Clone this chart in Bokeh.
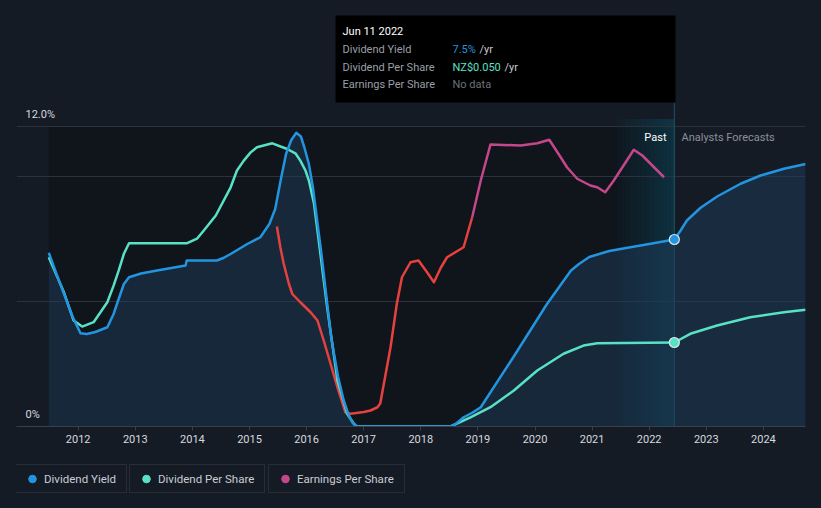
from bokeh.plotting import figure
from bokeh.layouts import column
from bokeh.models import (Range1d, FixedTicker, Grid, BoxAnnotation, Label,
                          Legend, LegendItem)
from bokeh.embed import file_html
from bokeh.resources import INLINE

# ---------------- data ----------------
tick_years = [2012, 2013, 2014, 2015, 2016, 2017, 2018, 2019, 2020, 2021, 2022, 2023, 2024]

# Dividend yield (%) - past
dy_years = [2011.485, 2011.62, 2011.75, 2011.9, 2012.04, 2012.15, 2012.3, 2012.51, 2012.62,
            2012.71, 2012.8, 2012.89, 2013.1, 2013.38, 2013.88, 2013.90, 2014.43, 2014.55,
            2014.67, 2014.96, 2015.19, 2015.35, 2015.45, 2015.55, 2015.64, 2015.73, 2015.82,
            2015.90, 2015.96, 2016.04, 2016.11, 2016.26, 2016.43, 2016.55, 2016.65, 2016.73,
            2016.80, 2016.88, 2018.52, 2018.62, 2018.75, 2018.9, 2019.05, 2019.62, 2020.21,
            2020.63, 2020.77, 2020.95, 2021.3, 2021.67, 2022.0, 2022.44]
dy = [6.95, 6.1, 5.31, 4.4, 3.73, 3.70, 3.78, 3.97, 4.5,
      5.11, 5.7, 5.97, 6.12, 6.24, 6.44, 6.64, 6.64, 6.75,
      6.9, 7.3, 7.57, 8.11, 8.7, 9.9, 10.9, 11.45, 11.75,
      11.6, 11.17, 10.5, 9.57, 6.9, 3.57, 2.0, 1.04, 0.5,
      0.17, 0.0, 0.0, 0.12, 0.37, 0.55, 0.77, 2.77, 4.9,
      6.24, 6.5, 6.78, 7.02, 7.17, 7.3, 7.48]
# Dividend yield (%) - analysts forecasts
dy_fc_years = [2022.44, 2022.55, 2022.66, 2022.90, 2023.19, 2023.60, 2023.95, 2024.36, 2024.74]
dy_fc = [7.48, 7.84, 8.24, 8.75, 9.2, 9.71, 10.04, 10.31, 10.5]

# Dividend per share (NZ$) - past
dps_years = [2011.485, 2011.75, 2011.92, 2012.07, 2012.27, 2012.51, 2012.62, 2012.71, 2012.80,
             2012.89, 2013.91, 2014.08, 2014.20, 2014.41, 2014.67, 2014.78, 2014.90, 2015.02,
             2015.13, 2015.40, 2015.66, 2015.81, 2015.89, 2015.98, 2016.04, 2016.13, 2016.19,
             2016.36, 2016.54, 2016.71, 2016.83, 2016.88, 2018.52, 2018.87, 2019.22, 2019.63,
             2020.04, 2020.50, 2020.85, 2021.09, 2022.44]
dps = [0.1007, 0.0799, 0.0631, 0.0595, 0.0621, 0.0740, 0.0839, 0.0929, 0.1028,
       0.1091, 0.1091, 0.1118, 0.1167, 0.1256, 0.1424, 0.1524, 0.1583, 0.1632,
       0.1662, 0.1686, 0.1652, 0.1624, 0.1583, 0.1524, 0.1464, 0.1326, 0.1167,
       0.0710, 0.0274, 0.0076, 0.0015, 0.0, 0.0, 0.0055, 0.0115, 0.0214,
       0.0333, 0.0433, 0.0482, 0.0496, 0.050]
# Dividend per share (NZ$) - forecasts
dps_fc_years = [2022.44, 2022.72, 2023.19, 2023.77, 2024.36, 2024.74]
dps_fc = [0.050, 0.0552, 0.0601, 0.0650, 0.0680, 0.0695]

# Earnings per share (relative scale)
eps_red_years = [2015.48, 2015.54, 2015.60, 2015.69, 2015.75, 2015.89, 2016.07, 2016.19, 2016.30,
                 2016.54, 2016.68, 2016.77, 2017.0, 2017.12, 2017.24, 2017.29, 2017.47, 2017.58,
                 2017.67, 2017.82, 2017.96, 2018.10, 2018.23, 2018.35, 2018.46, 2018.75, 2018.90]
eps_red = [8.0, 7.17, 6.5, 5.71, 5.3, 4.97, 4.57, 4.24, 3.44,
           1.57, 0.57, 0.51, 0.58, 0.64, 0.77, 0.92, 3.17, 4.91,
           5.97, 6.57, 6.64, 6.2, 5.77, 6.35, 6.77, 7.17, 8.37]
eps_mag_years = [2018.90, 2019.05, 2019.22, 2019.75, 2020.04, 2020.25, 2020.45, 2020.56, 2020.74,
                 2020.97, 2021.09, 2021.23, 2021.38, 2021.73, 2021.88, 2022.26]
eps_mag = [8.37, 9.84, 11.28, 11.24, 11.33, 11.47, 10.77, 10.37, 9.91,
           9.64, 9.57, 9.37, 9.84, 11.07, 10.84, 9.97]

NOW = 2022.44
DPS_AT_12 = 0.1786          # NZ$ value that sits on the 12.0% line
y_grid = [0, 5, 10, 12]

# ---------------- layout / style ----------------
W = 821
H_MAIN, H_LEG = 455, 53
FL, FR, FB = 16, 805, 426          # frame left/right/bottom in pixels
PX_YR = 57.1
PX_UNIT = 25.0
X0 = 2012 - (77.7 - FL) / PX_YR
X1 = X0 + (FR - FL) / PX_YR
Y1 = FB / PX_UNIT

BG = "#151b25"
PAST_BG = "#10141b"
BLUE = "#2394df"
TEAL = "#59e1c6"
RED = "#e5423f"
MAG = "#c4478b"
GRID = "#2c323b"
FONT = "Roboto"
CSS_BG = {"background-color": BG}


def px_x(px):
    return X0 + (px - FL) / PX_YR


def px_y(py):
    return (FB - py) / PX_UNIT


p = figure(width=W, height=H_MAIN, x_range=Range1d(X0, X1), y_range=Range1d(0, Y1),
           output_backend="svg", toolbar_location=None, y_axis_location=None,
           min_border_left=FL, min_border_right=W - FR, min_border_top=0,
           min_border_bottom=H_MAIN - FB, background_fill_color=BG, border_fill_color=BG,
           outline_line_color=None, styles=CSS_BG)
p.extra_y_ranges = {"dps": Range1d(0, DPS_AT_12 * Y1 / 12)}
p.xgrid.visible = False
p.ygrid.visible = False

# backgrounds
p.add_layout(BoxAnnotation(left=dy_years[0], right=NOW, bottom=0, top=12.0,
                           fill_color=PAST_BG, fill_alpha=1, line_alpha=0, level="underlay"))
N = 14
for i in range(N):
    p.add_layout(BoxAnnotation(left=NOW - 1 + i / N, right=NOW - 1 + (i + 1) / N, bottom=0, top=12.3,
                               fill_color="#0b4d63", fill_alpha=0.05 + 0.45 * (i + 1) / N,
                               line_alpha=0, level="underlay"))
p.add_layout(Grid(dimension=1, ticker=FixedTicker(ticks=y_grid), grid_line_color=GRID,
                  grid_line_width=1))

# hover line
p.segment(x0=[NOW], y0=[0], x1=[NOW], y1=[px_y(102)], line_color="#1d5566", line_width=1)

# fill under dividend yield
all_x = dy_years + dy_fc_years[1:]
all_y = dy + dy_fc[1:]
p.varea(x=all_x, y1=[0] * len(all_x), y2=all_y, fill_color="#1d3b5a", fill_alpha=0.5)

# lines
p.line(eps_red_years, eps_red, line_color=RED, line_width=2.5, line_join="round")
p.line(eps_mag_years, eps_mag, line_color=MAG, line_width=2.5, line_join="round")
p.line(dps_years, dps, line_color=TEAL, line_width=2.5, line_join="round", y_range_name="dps")
p.line(dps_fc_years, dps_fc, line_color=TEAL, line_width=2.5, line_join="round", y_range_name="dps")
p.line(dy_years, dy, line_color=BLUE, line_width=2.5, line_join="round")
p.line(dy_fc_years, dy_fc, line_color=BLUE, line_width=2.5, line_join="round")
p.scatter([NOW], [dy[-1]], size=10, fill_color=BLUE, line_color="#dfe8ef", line_width=1.2)
p.scatter([NOW], [dps[-1]], size=10, fill_color=TEAL, line_color="#dfe8ef", line_width=1.2,
          y_range_name="dps")

# axis
ax = p.xaxis[0]
ax.ticker = FixedTicker(ticks=tick_years)
ax.axis_line_color = "#3a404a"
ax.major_tick_line_color = "#3a404a"
ax.major_tick_out = 4
ax.major_tick_in = 0
ax.minor_tick_line_color = None
ax.major_label_text_color = "#d5d9de"
ax.major_label_text_font = FONT
ax.major_label_text_font_size = "11px"
ax.major_label_standoff = 4

# y labels
for v, txt in [(12, "12.0%"), (0, "0%")]:
    p.add_layout(Label(x=px_x(25), y=v, y_offset=12, text=txt, text_font=FONT,
                       text_font_size="11px", text_color="#d5d9de", text_baseline="middle"))

p.add_layout(Label(x=px_x(666), y=px_y(137), text="Past", text_font=FONT, text_font_size="11px",
                   text_color="#ffffff", text_align="right", text_baseline="middle"))
p.add_layout(Label(x=px_x(681), y=px_y(137), text="Analysts Forecasts", text_font=FONT,
                   text_font_size="11px", text_color="#8b9099", text_baseline="middle"))

# tooltip
p.add_layout(BoxAnnotation(left=px_x(335), right=px_x(675), top=px_y(15), bottom=px_y(102),
                           fill_color="#000000", fill_alpha=1, line_alpha=0, level="overlay"))
sep = [41, 58, 76, 93]
p.segment(x0=[px_x(342)] * 4, y0=[px_y(s) for s in sep], x1=[px_x(667)] * 4,
          y1=[px_y(s) for s in sep], line_color="#3b3b3b", line_width=1, level="overlay")
tip = [
    (342, 31, "Jun 11 2022", "#ffffff"),
    (342, 49, "Dividend Yield", "#9a9fa6"),
    (452, 49, "7.5%", BLUE),
    (479, 49, "/yr", "#c9ccd1"),
    (342, 67, "Dividend Per Share", "#9a9fa6"),
    (452, 67, "NZ$0.050", TEAL),
    (504, 67, "/yr", "#c9ccd1"),
    (342, 84, "Earnings Per Share", "#9a9fa6"),
    (452, 84, "No data", "#6c7178"),
]
for x, y, t, c in tip:
    p.add_layout(Label(x=px_x(x), y=px_y(y), text=t, text_font=FONT, text_font_size="11px",
                       text_color=c, text_baseline="middle", level="overlay"))

# legend strip (three boxed items)
lf = figure(width=W, height=H_LEG, x_range=Range1d(0, W), y_range=Range1d(0, H_LEG),
            output_backend="svg", toolbar_location=None, x_axis_location=None,
            y_axis_location=None, min_border=0, min_border_left=0, min_border_right=0,
            min_border_top=0, min_border_bottom=0, background_fill_color=BG,
            border_fill_color=BG, outline_line_color=None, styles=CSS_BG)
lf.xgrid.visible = False
lf.ygrid.visible = False
legend_specs = [("Dividend Yield", BLUE, 16, 78), ("Dividend Per Share", TEAL, 130, 102),
                ("Earnings Per Share", MAG, 269, 103)]
for name, col, lx, lw in legend_specs:
    # single off-screen point so the legend can draw its marker swatch
    r = lf.scatter(x=[-50], y=[-50], size=8, fill_color=col, line_color=col)
    lg = Legend(items=[LegendItem(label=name, renderers=[r])], location=(lx - 17, 15),
                orientation="horizontal", glyph_width=24, glyph_height=19, label_height=19,
                label_width=lw, label_standoff=0, padding=4, margin=0, spacing=0,
                border_line_color="#3a404a", border_line_width=1,
                background_fill_color=BG, background_fill_alpha=1,
                label_text_font=FONT, label_text_font_size="11.5px",
                label_text_color="#c9cdd3", label_text_baseline="middle")
    lf.add_layout(lg, "center")

layout = column(p, lf, spacing=0, styles=CSS_BG)
open("out.html", "w").write(file_html(layout, INLINE))
